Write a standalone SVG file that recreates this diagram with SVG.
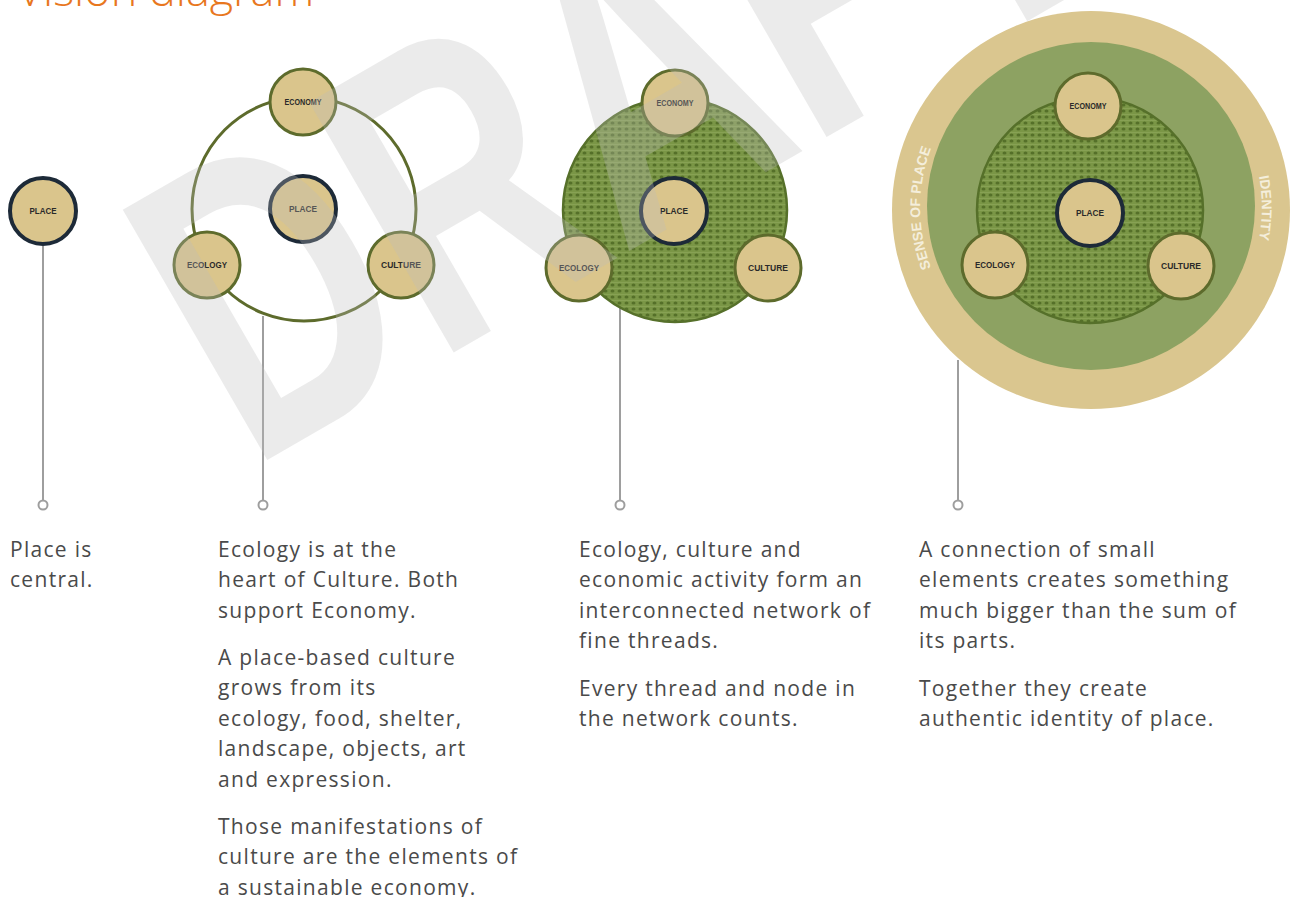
<svg xmlns="http://www.w3.org/2000/svg" width="1290" height="897" viewBox="0 0 1290 897">
<defs>
<style>
.body{font-family:"Open Sans","Noto Sans",sans-serif;font-size:21px;fill:#4a4a4a;letter-spacing:1.3px}
.lbl{font-family:"Liberation Sans",Arial,sans-serif;font-weight:bold;font-size:9px;fill:#2a2a2a;text-anchor:middle}
.sat{fill:#dac58c;stroke:#5d6b2c;stroke-width:3}
.ctr{fill:#dac58c;stroke:#1d2a38;stroke-width:4}
.conn{stroke:#9e9e9e;stroke-width:2;fill:none}
.dot{fill:#fff;stroke:#9e9e9e;stroke-width:2}
.arc{font-family:"Liberation Sans",Arial,sans-serif;font-weight:bold;font-size:14px;fill:#f4eedb}
</style>
<pattern id="weave" width="7" height="6" patternUnits="userSpaceOnUse">
<rect width="7" height="6" fill="#7a9646"/>
<ellipse cx="3.5" cy="3" rx="2" ry="1.5" fill="#557029"/>
<line x1="0" y1="0.3" x2="7" y2="0.3" stroke="#91ab5e" stroke-width="0.7"/>
</pattern>
<path id="leftArc" d="M1005.5,356 A171,171 0 0 1 1005.5,60"/>
<path id="rightArc" d="M1176.5,60 A171,171 0 0 1 1176.5,356"/>
</defs>
<rect width="1290" height="897" fill="#ffffff"/>
<text id="title" x="17" y="6" style="font-family:'Open Sans','Noto Sans',sans-serif;font-size:45px;font-weight:300;fill:#e8771e">Vision diagram</text>

<g id="connectors">
<line class="conn" x1="43" y1="246" x2="43" y2="500"/>
<circle class="dot" cx="43" cy="505" r="4.5"/>
<line class="conn" x1="263" y1="316" x2="263" y2="500"/>
<circle class="dot" cx="263" cy="505" r="4.5"/>
<line class="conn" x1="620" y1="308" x2="620" y2="500"/>
<circle class="dot" cx="620" cy="505" r="4.5"/>
<line class="conn" x1="958" y1="360" x2="958" y2="500"/>
<circle class="dot" cx="958" cy="505" r="4.5"/>
</g>

<g id="stage1">
<g id="s1-place"><circle class="ctr" cx="43" cy="211" r="33"/><text class="lbl" x="43" y="214" textLength="27" lengthAdjust="spacingAndGlyphs">PLACE</text></g>
</g>

<g id="stage2">
<circle id="s2-ring" cx="304" cy="209" r="112" fill="none" stroke="#5d6b2c" stroke-width="3"/>
<g id="s2-economy"><circle class="sat" cx="303" cy="102" r="33"/><text class="lbl" x="303" y="105" textLength="37" lengthAdjust="spacingAndGlyphs">ECONOMY</text></g>
<g id="s2-place"><circle class="ctr" cx="303" cy="209" r="33"/><text class="lbl" x="303" y="212" textLength="28" lengthAdjust="spacingAndGlyphs">PLACE</text></g>
<g id="s2-ecology"><circle class="sat" cx="207" cy="265" r="33"/><text class="lbl" x="207" y="268" textLength="40" lengthAdjust="spacingAndGlyphs">ECOLOGY</text></g>
<g id="s2-culture"><circle class="sat" cx="401" cy="265" r="33"/><text class="lbl" x="401" y="268" textLength="40" lengthAdjust="spacingAndGlyphs">CULTURE</text></g>
</g>

<g id="stage3">
<circle id="s3-network" cx="675" cy="210" r="112" fill="url(#weave)" stroke="#56702a" stroke-width="2.5"/>
<g id="s3-economy"><circle class="sat" cx="675" cy="103" r="33"/><text class="lbl" x="675" y="106" textLength="37" lengthAdjust="spacingAndGlyphs">ECONOMY</text></g>
<g id="s3-place"><circle class="ctr" cx="674" cy="211" r="33"/><text class="lbl" x="674" y="214" textLength="28" lengthAdjust="spacingAndGlyphs">PLACE</text></g>
<g id="s3-ecology"><circle class="sat" cx="579" cy="268" r="33"/><text class="lbl" x="579" y="271" textLength="40" lengthAdjust="spacingAndGlyphs">ECOLOGY</text></g>
<g id="s3-culture"><circle class="sat" cx="768" cy="268" r="33"/><text class="lbl" x="768" y="271" textLength="40" lengthAdjust="spacingAndGlyphs">CULTURE</text></g>
</g>

<g id="stage4">
<circle id="s4-identity-ring" cx="1091" cy="210" r="199" fill="#dac68f"/>
<circle id="s4-sense-ring" cx="1091" cy="206" r="164" fill="#8da262"/>
<circle id="s4-network" cx="1090" cy="210" r="113" fill="url(#weave)" stroke="#56702a" stroke-width="2.5"/>
<text class="arc"><textPath href="#leftArc" startOffset="50%" text-anchor="middle">SENSE OF PLACE</textPath></text>
<text class="arc"><textPath href="#rightArc" startOffset="50%" text-anchor="middle">IDENTITY</textPath></text>
<g id="s4-economy"><circle class="sat" cx="1088" cy="106" r="33"/><text class="lbl" x="1088" y="109" textLength="37" lengthAdjust="spacingAndGlyphs">ECONOMY</text></g>
<g id="s4-place"><circle class="ctr" cx="1090" cy="213" r="33"/><text class="lbl" x="1090" y="216" textLength="28" lengthAdjust="spacingAndGlyphs">PLACE</text></g>
<g id="s4-ecology"><circle class="sat" cx="995" cy="265" r="33"/><text class="lbl" x="995" y="268" textLength="40" lengthAdjust="spacingAndGlyphs">ECOLOGY</text></g>
<g id="s4-culture"><circle class="sat" cx="1181" cy="266" r="33"/><text class="lbl" x="1181" y="269" textLength="40" lengthAdjust="spacingAndGlyphs">CULTURE</text></g>
</g>

<g id="captions">
<text class="body" x="10" y="557">Place is</text>
<text class="body" x="10" y="587">central.</text>

<text class="body" x="218" y="557">Ecology is at the</text>
<text class="body" x="218" y="587">heart of Culture. Both</text>
<text class="body" x="218" y="618">support Economy.</text>
<text class="body" x="218" y="665">A place-based culture</text>
<text class="body" x="218" y="695">grows from its</text>
<text class="body" x="218" y="726">ecology, food, shelter,</text>
<text class="body" x="218" y="756">landscape, objects, art</text>
<text class="body" x="218" y="787">and expression.</text>
<text class="body" x="218" y="834">Those manifestations of</text>
<text class="body" x="218" y="864">culture are the elements of</text>
<text class="body" x="218" y="895">a sustainable economy.</text>

<text class="body" x="579" y="557">Ecology, culture and</text>
<text class="body" x="579" y="587">economic activity form an</text>
<text class="body" x="579" y="618">interconnected network of</text>
<text class="body" x="579" y="648">fine threads.</text>
<text class="body" x="579" y="696">Every thread and node in</text>
<text class="body" x="579" y="726">the network counts.</text>

<text class="body" x="919" y="557">A connection of small</text>
<text class="body" x="919" y="587">elements creates something</text>
<text class="body" x="919" y="618">much bigger than the sum of</text>
<text class="body" x="919" y="648">its parts.</text>
<text class="body" x="919" y="696">Together they create</text>
<text class="body" x="919" y="726">authentic identity of place.</text>
</g>

<text id="watermark" transform="translate(250,470) rotate(-30)" textLength="1010" lengthAdjust="spacingAndGlyphs" style="font-family:'Liberation Sans',Arial,sans-serif;font-weight:bold;font-size:420px;fill:#bdbdbd;fill-opacity:0.3">DRAFT</text>
</svg>
